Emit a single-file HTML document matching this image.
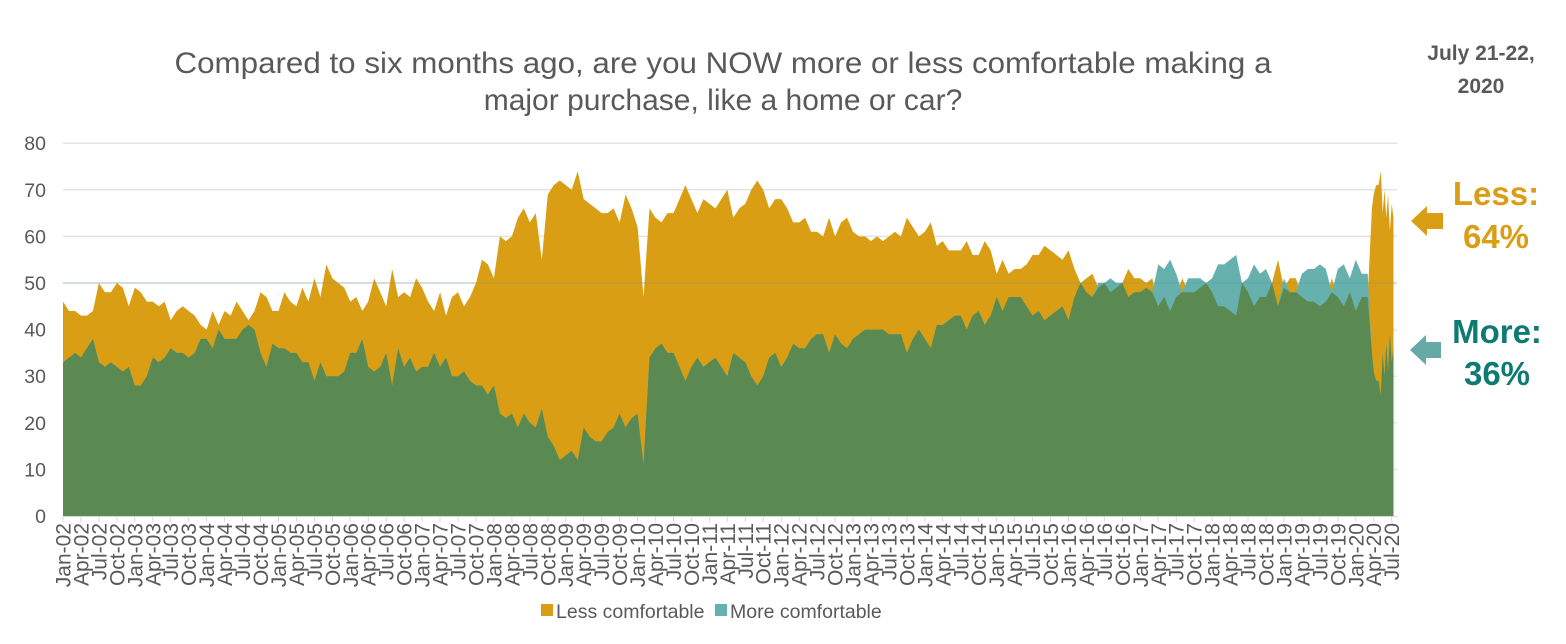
<!DOCTYPE html>
<html><head><meta charset="utf-8">
<style>
html,body{margin:0;padding:0;background:#fff;}
body{width:1566px;height:639px;overflow:hidden;font-family:"Liberation Sans",Arial,sans-serif;}
svg text{font-family:"Liberation Sans",Arial,sans-serif;}
</style></head>
<body>
<svg id="chart" width="1566" height="639" viewBox="0 0 1566 639" xmlns="http://www.w3.org/2000/svg">
<text x="723" y="73" font-size="30" fill="#595959" text-anchor="middle" textLength="1097" lengthAdjust="spacingAndGlyphs">Compared to six months ago, are you NOW more or less comfortable making a</text>
<text x="723" y="110" font-size="30" fill="#595959" text-anchor="middle">major purchase, like a home or car?</text>
<text x="1481" y="60" font-size="21" font-weight="bold" fill="#595959" text-anchor="middle">July 21-22,</text>
<text x="1481" y="93" font-size="21" font-weight="bold" fill="#595959" text-anchor="middle">2020</text>
<g id="grid"></g>
<g id="areas"></g>
<g id="xaxis"></g>
<g id="yaxis"></g>
<g>
<rect x="541" y="604" width="12" height="12" fill="#d99e14"/>
<text x="556" y="618" font-size="19.5" fill="#595959">Less comfortable</text>
<rect x="715" y="604" width="12" height="12" fill="#66b0ad"/>
<text x="730" y="618" font-size="19.5" fill="#595959">More comfortable</text>
</g>
<polygon points="1411,221 1427,206 1427,213 1443,213 1443,229 1427,229 1427,236" fill="#d99e14"/>
<text x="1496" y="205" font-size="33" font-weight="bold" fill="#d99e14" text-anchor="middle">Less:</text>
<text x="1496" y="248" font-size="33" font-weight="bold" fill="#d99e14" text-anchor="middle">64%</text>
<polygon points="1410,350 1426,335 1426,342 1441,342 1441,358 1426,358 1426,365" fill="#66aaa8"/>
<text x="1497" y="343" font-size="33" font-weight="bold" fill="#0e7a72" text-anchor="middle">More:</text>
<text x="1497" y="385" font-size="33" font-weight="bold" fill="#0e7a72" text-anchor="middle">36%</text>
</svg>
<script>
const lessMonthly = [46,44,44,43,43,44,50,48,48,50,49,45,49,48,46,46,45,46,42,44,45,44,43,41,40,44,41,44,43,46,44,42,44,48,47,44,44,48,46,45,49,46,51,47,54,51,50,49,46,47,44,46,51,48,45,53,47,48,47,51,49,46,44,48,43,47,48,45,47,50,55,54,51,60,59,60,64,66,63,65,55,69,71,72,71,70,74,68,67,66,65,65,66,63,69,66,62,47,66,64,63,65,65,68,71,68,65,68,67,66,68,70,64,66,67,70,72,70,66,68,68,66,63,63,64,61,61,60,64,60,63,64,61,60,60,59,60,59,60,61,60,64,62,60,61,63,58,59,57,57,57,59,56,56,59,57,52,55,52,53,53,54,56,56,58,57,56,55,57,53,50,51,52,49,50,48,49,50,53,51,51,50,51,45,47,44,47,51,48,48,49,50,48,45,45,44,43,50,48,45,47,47,50,55,49,51,51,47,46,46,45,46,51,47,45,48,44,47];
const moreMonthly = [33,34,35,34,36,38,33,32,33,32,31,32,28,28,30,34,33,34,36,35,35,34,35,38,38,36,40,38,38,38,40,41,40,35,32,37,36,36,35,35,33,33,29,33,30,30,30,31,35,35,38,32,31,32,35,28,36,32,34,31,32,32,35,32,34,30,30,31,29,28,28,26,28,22,21,22,19,22,20,19,23,17,15,12,13,14,12,19,17,16,16,18,19,22,19,21,22,11,34,36,37,35,35,32,29,32,34,32,33,34,32,30,35,34,33,30,28,30,34,35,32,34,37,36,36,38,39,39,35,39,37,36,38,39,40,40,40,40,39,39,39,35,38,40,38,36,41,41,42,43,43,40,43,44,41,43,47,44,47,47,47,45,43,44,42,43,44,45,42,47,50,48,47,50,50,51,50,50,47,48,48,49,48,54,53,55,52,48,51,51,51,50,51,54,54,55,56,50,51,54,52,53,50,45,51,48,48,52,53,53,54,53,48,53,54,51,55,52];
const recentPos = [218,218.7,219,219.4,219.8,220.2,220.5,220.8,221.1,221.4,221.7,222,222.3];
const lessRecent = [47,66,69,71,71,74,65,70,64,69,61,67,64];
const moreRecent = [52,35,31,29,29,26,35,30,37,31,39,33,36];
const yTicks = [0,10,20,30,40,50,60,70,80];
const monthNames = ["Jan","Apr","Jul","Oct"];

const NS = "http://www.w3.org/2000/svg";
const X0 = 63, MW = 5.985, Y0 = 516, YS = 4.66;
const xs = m => X0 + m * MW;
const ys = v => Y0 - v * YS;
function mk(tag, attrs, parent){const e=document.createElementNS(NS,tag);for(const k in attrs)e.setAttribute(k,attrs[k]);parent.appendChild(e);return e;}

const pos=[], less=[], more=[];
lessMonthly.forEach((v,i)=>{pos.push(i);less.push(v);more.push(moreMonthly[i]);});
recentPos.forEach((p,i)=>{pos.push(p);less.push(lessRecent[i]);more.push(moreRecent[i]);});

const grid=document.getElementById('grid');
const yax=document.getElementById('yaxis');
yTicks.forEach(t=>{
  if(t>0){const l=mk('line',{x1:X0,x2:1397,y1:ys(t),y2:ys(t),stroke:'#e3e3e3','stroke-width':1.5},grid);
  
  }
  const tx=mk('text',{x:46,y:ys(t)+7,'font-size':19.5,fill:'#595959','text-anchor':'end'},yax);
  tx.textContent=t;
  
  
});

function areaPath(vals){
  let d='M'+xs(pos[0])+','+Y0;
  vals.forEach((v,i)=>{d+=' L'+xs(pos[i]).toFixed(1)+','+ys(v).toFixed(1);});
  d+=' L'+xs(pos[pos.length-1]).toFixed(1)+','+Y0+' Z';return d;
}
const areas=document.getElementById('areas');
const a1=mk('path',{d:areaPath(less),fill:'#d99e14'},areas);


const a2=mk('path',{d:areaPath(more),fill:'#66b0ad'},areas);


const mins=less.map((v,i)=>Math.min(v,more[i]));
const a3=mk('path',{d:areaPath(mins),fill:'#5a8a52'},areas);


const g50=mk('line',{x1:X0,x2:1397,y1:ys(50),y2:ys(50),stroke:'#5a9a98','stroke-width':1,opacity:0.35},areas);



const xax=document.getElementById('xaxis');
const axl=mk('line',{x1:X0,x2:1397,y1:Y0+0.5,y2:Y0+0.5,stroke:'#d9d9d9','stroke-width':1},xax);


for(let m=0;m<=222;m+=3){
  const x=xs(m);
  const tk=mk('line',{x1:x,x2:x,y1:Y0,y2:Y0+6,stroke:'#d9d9d9','stroke-width':1},xax);
  
  
  const yr=2+Math.floor(m/12);
  const lbl=monthNames[(m%12)/3]+'-'+(yr<10?'0'+yr:yr);
  const t=mk('text',{x:0,y:0,'font-size':21,fill:'#595959','text-anchor':'end',transform:'translate('+(x+7.5)+','+(Y0+7)+') rotate(-90)'},xax);
  t.textContent=lbl;
  
  
}
</script>
</body></html>
